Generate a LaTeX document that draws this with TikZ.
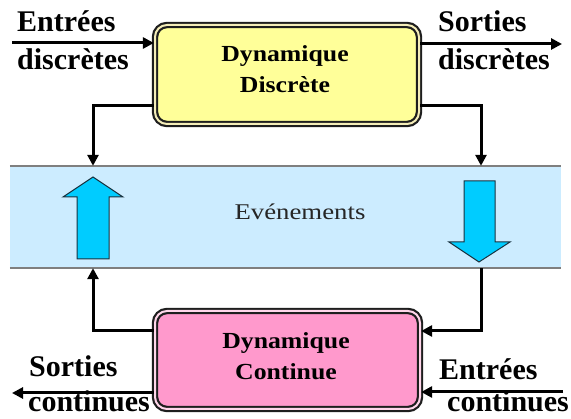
\documentclass[tikz,border=0pt]{standalone}
\usepackage{fontspec}
\usepackage{graphicx}
\setmainfont{Liberation Serif}
\usetikzlibrary{arrows.meta}
\definecolor{yfill}{HTML}{FFFF99}
\definecolor{ygap}{HTML}{F4EDB8}
\definecolor{pfill}{HTML}{FF99CC}
\definecolor{pgap}{HTML}{FFD6EA}
\definecolor{boxdark}{HTML}{1E1E1E}
\definecolor{bandblue}{HTML}{CCECFF}
\definecolor{bandline}{HTML}{7F7F7F}
\definecolor{arrowblue}{HTML}{00CCFF}
\definecolor{arrowedge}{HTML}{1A3340}
\begin{document}
\begin{tikzpicture}[x=1pt,y=-1pt,
  conn/.style={line width=3pt,-{Triangle[length=11pt,width=11pt]}},
  dynbox/.style={rounded corners=12pt,draw=boxdark,double=#1,double distance=2pt,line width=2.2pt,inner sep=0pt},
  lbl/.style={font=\fontsize{30}{30}\selectfont\bfseries,anchor=base west,inner sep=0pt},
  btxt/.style={font=\fontsize{23}{23}\selectfont\bfseries,anchor=base,inner sep=0pt},
  evtxt/.style={font=\fontsize{22.5}{22.5}\selectfont,text=black!85,anchor=base,inner sep=0pt},
  fatarrow/.style={fill=arrowblue,draw=arrowedge,line width=1pt,line join=miter},
  bandrule/.style={draw=bandline,line width=1.5pt}]
\useasboundingbox (0,0) rectangle (571,419);

% band
\node[fill=bandblue,minimum width=551pt,minimum height=102pt,inner sep=0pt] (band) at (285.5,217) {};
\draw[bandrule] (band.north west) -- (band.north east);
\draw[bandrule] (band.south west) -- (band.south east);
\node[evtxt] (ev) at (300,220) {\scalebox{1.19}[1]{Evénements}};

% fat arrows
\draw[fatarrow] (93,177) -- (123,197) -- (109,197) -- (109,259) -- (77,259) -- (77,197) -- (63,197) -- cycle;
\draw[fatarrow] (464,181) -- (495,181) -- (495,242) -- (510,242) -- (479,262) -- (449,242) -- (464,242) -- cycle;

% boxes
\node[dynbox=ygap,fill=yfill,minimum width=264pt,minimum height=99pt] (dd) at (287,74.5) {};
\node[btxt] (dd1) at (285,62) {\scalebox{1.12}[1]{Dynamique}};
\node[btxt] (dd2) at (285,93) {\scalebox{1.12}[1]{Discrète}};

\node[dynbox=pgap,fill=pfill,minimum width=265pt,minimum height=98pt] (cd) at (287.5,360) {};
\node[btxt] (cd1) at (286,349) {\scalebox{1.12}[1]{Dynamique}};
\node[btxt] (cd2) at (286,380) {\scalebox{1.12}[1]{Continue}};

% coordinates
\coordinate (inD) at (12,43);
\coordinate (outD) at (562,44);
\coordinate (outC) at (12,393);
\coordinate (inC) at (563,392);
\coordinate (yL) at (93,106);
\coordinate (yR) at (481,106);
\coordinate (pL) at (93,331);
\coordinate (pR) at (481,331);

% external arrows
\draw[conn] (inD) -- (dd.west |- inD);
\draw[conn] (dd.east |- outD) -- (outD);
\draw[conn] (cd.west |- outC) -- (outC);
\draw[conn] (inC) -- (cd.east |- inC);

% loop connectors
\draw[conn] (dd.west |- yL) -- (yL) -- (yL |- band.north);
\draw[conn] (dd.east |- yR) -- (yR) -- (yR |- band.north);
\draw[conn] (cd.west |- pL) -- (pL) -- (pL |- band.south);
\draw[conn] (band.south -| pR) -- (pR) -- (cd.east |- pR);

% labels
\node[lbl] (l1) at (17,32) {Entrées};
\node[lbl] (l2) at (17,70) {discrètes};
\node[lbl] (l3) at (438,32) {Sorties};
\node[lbl] (l4) at (438,70) {discrètes};
\node[lbl] (l5) at (29,377) {Sorties};
\node[lbl] (l6) at (28,412) {continues};
\node[lbl] (l7) at (439,380) {Entrées};
\node[lbl] (l8) at (447,412) {continues};
\end{tikzpicture}
\end{document}
